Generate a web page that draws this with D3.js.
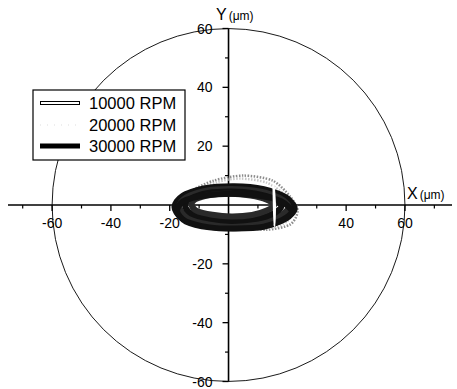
<!DOCTYPE html>
<html><head><meta charset="utf-8">
<script src="https://cdn.jsdelivr.net/npm/d3@7"></script>
<style>body{margin:0;background:#fff}svg{display:block;font-family:"Liberation Sans",Arial,sans-serif}</style>
</head><body><svg id="c" width="457" height="389"></svg>
<script>
// ---- data (μm) ----
const seriesNames = ["10000 RPM", "20000 RPM", "30000 RPM"];
const xMajorTicks = [-60, -40, -20, 40, 60];
const xMinorTicks = [-70, -50, -30, -10, 10, 30, 50, 70];
const yMajorTicks = [60, 40, 20, -20, -40, -60];
const yMinorTicks = [50, 30, 10, -10, -30, -50];
const boundaryRadius = [60];
// 20000 RPM orbit (light, stippled)
const orbit20000 = [
  [[23.5,-2],[21,2.8],[15,8.3],[5,10],[-5,8.3],[-13,4.5],[-16,0],[-15,-4],[-8,-6.5],[2,-7],[13,-8.4],[21,-6.6]],
  [[22,-1],[19,3.5],[13,7.6],[4,9],[-4,7.8],[-12,4.2],[-15,0],[-14,-3.5],[-7,-6],[3,-6.5],[14,-7.8],[20,-5.5]]
];
// 30000 RPM orbit loops (dark band)
const orbit30000 = [
  [[22.5,-1.2],[19.5,2.6],[12,5.4],[2,6.4],[-8.5,5.6],[-15.8,3],[-18.4,-0.6],[-16,-4.4],[-8.5,-7.1],[1.5,-7.9],[12,-7.1],[19.5,-4.6]],
  [[20.5,-0.8],[17.5,2.3],[10.5,4.6],[1,5.4],[-8,4.8],[-14.5,2.5],[-16.8,-0.4],[-14.5,-3.6],[-7.5,-5.8],[1.5,-6.6],[11,-5.8],[17.5,-3.6]],
  [[18,-0.4],[15.5,2],[9,3.9],[0.8,4.6],[-7,4.1],[-12.8,2.2],[-14.8,-0.2],[-12.8,-2.8],[-6.5,-4.6],[1,-5.4],[9.5,-4.7],[15.5,-2.8]],
  [[15.5,0],[13,1.8],[7.5,3.2],[0.5,3.8],[-6.2,3.4],[-11.2,2],[-12.6,0.2],[-11,-1.9],[-5.5,-3.3],[1,-3.9],[8,-3.4],[13,-1.9]],
  [[21.5,-2.2],[18,1.2],[10,3.2],[1,3.8],[-8,3.2],[-15.5,1.2],[-17.5,-2.2],[-14.5,-5.6],[-6.5,-7.6],[2.5,-8],[12,-7.4],[18.5,-5]]
];
// 10000 RPM orbit (white trace)
const orbit10000 = [
  [[15.3,7.2],[15.8,0],[15.6,-7.2],[15.4,0]]
];
const axisTitleX = "X", axisTitleY = "Y", unitLabel = "(μm)";

// ---- scales ----
const svg = d3.select("#c");
const x = d3.scaleLinear().domain([-75, 76]).range([8, 452]);
const y = d3.scaleLinear().domain([-60, 60]).range([381.5, 28.5]);
const x0 = x(0), y0 = y(0);

// boundary circle
svg.append("circle").attr("cx", x0).attr("cy", y0)
  .attr("r", x(boundaryRadius[0]) - x0)
  .attr("fill", "none").attr("stroke", "#000").attr("stroke-width", 0.9);

// X axis
const gx = svg.append("g");
gx.append("line").attr("x1", x(-75)).attr("x2", x(76)).attr("y1", y0).attr("y2", y0)
  .attr("stroke", "#000").attr("stroke-width", 1.6);
gx.selectAll(".xm").data(xMajorTicks).join("line")
  .attr("x1", d => x(d)).attr("x2", d => x(d)).attr("y1", y0).attr("y2", y0 + 6)
  .attr("stroke", "#000").attr("stroke-width", 1.3);
gx.selectAll(".xn").data(xMinorTicks).join("line")
  .attr("x1", d => x(d)).attr("x2", d => x(d)).attr("y1", y0).attr("y2", y0 + 3.5)
  .attr("stroke", "#000").attr("stroke-width", 1.2);
gx.selectAll("text").data(xMajorTicks).join("text")
  .attr("x", d => x(d)).attr("y", y0 + 23).attr("text-anchor", "middle")
  .attr("font-size", 14).text(d => d);

// Y axis
const gy = svg.append("g");
gy.append("line").attr("x1", x0).attr("x2", x0).attr("y1", y(60)).attr("y2", y(-60))
  .attr("stroke", "#000").attr("stroke-width", 1.6);
gy.selectAll(".ym").data(yMajorTicks).join("line")
  .attr("x1", x0 - 6).attr("x2", x0).attr("y1", d => y(d)).attr("y2", d => y(d))
  .attr("stroke", "#000").attr("stroke-width", 1.3);
gy.selectAll(".yn").data(yMinorTicks).join("line")
  .attr("x1", x0 - 3.5).attr("x2", x0).attr("y1", d => y(d)).attr("y2", d => y(d))
  .attr("stroke", "#000").attr("stroke-width", 1.2);
gy.selectAll("text").data(yMajorTicks).join("text")
  .attr("x", x0 - 16).attr("y", d => y(d) + 5).attr("text-anchor", "end")
  .attr("font-size", 14).text(d => d);

// axis titles
const tx = svg.append("text").attr("x", 407).attr("y", 199);
tx.append("tspan").attr("font-size", 16).text(axisTitleX);
tx.append("tspan").attr("font-size", 12).attr("dx", 2).text(unitLabel);
const ty = svg.append("text").attr("x", 216).attr("y", 20);
ty.append("tspan").attr("font-size", 16).text(axisTitleY);
ty.append("tspan").attr("font-size", 12).attr("dx", 2).text(unitLabel);

// orbits
const line = d3.line().x(d => x(d[0])).y(d => y(d[1])).curve(d3.curveCardinalClosed.tension(0.2));
svg.append("g").selectAll("path").data(orbit20000).join("path")
  .attr("d", line).attr("fill", "none").attr("stroke", (d, i) => i ? "#c8c8c8" : "#8c8c8c")
  .attr("stroke-width", 2.5).attr("stroke-dasharray", "1.5,1.5");
svg.append("g").selectAll("path").data(orbit30000).join("path")
  .attr("d", line).attr("fill", "none").attr("stroke", (d, i) => i % 2 ? "#2a2a2a" : "#111")
  .attr("stroke-width", 6);
svg.append("g").selectAll("path").data(orbit10000).join("path")
  .attr("d", line).attr("fill", "none").attr("stroke", "#fff").attr("stroke-width", 2);

// legend
const lg = svg.append("g");
lg.append("rect").attr("x", 33).attr("y", 90).attr("width", 152).attr("height", 70)
  .attr("fill", "#fff").attr("stroke", "#000").attr("stroke-width", 1.2);
const rowY = [103, 125, 146];
seriesNames.forEach((name, i) => {
  const yy = rowY[i];
  if (i === 0) {
    lg.append("line").attr("x1", 40).attr("x2", 80).attr("y1", yy).attr("y2", yy).attr("stroke", "#000").attr("stroke-width", 4);
    lg.append("line").attr("x1", 41).attr("x2", 79).attr("y1", yy).attr("y2", yy).attr("stroke", "#fff").attr("stroke-width", 2);
  } else if (i === 1) {
    lg.append("line").attr("x1", 40).attr("x2", 80).attr("y1", yy).attr("y2", yy).attr("stroke", "#ddd").attr("stroke-width", 1).attr("stroke-dasharray", "1,6");
  } else {
    lg.append("line").attr("x1", 40).attr("x2", 80).attr("y1", yy).attr("y2", yy).attr("stroke", "#000").attr("stroke-width", 5);
  }
  lg.append("text").attr("x", 89).attr("y", yy + 6).attr("font-size", 16.5).text(name);
});
</script></body></html>
